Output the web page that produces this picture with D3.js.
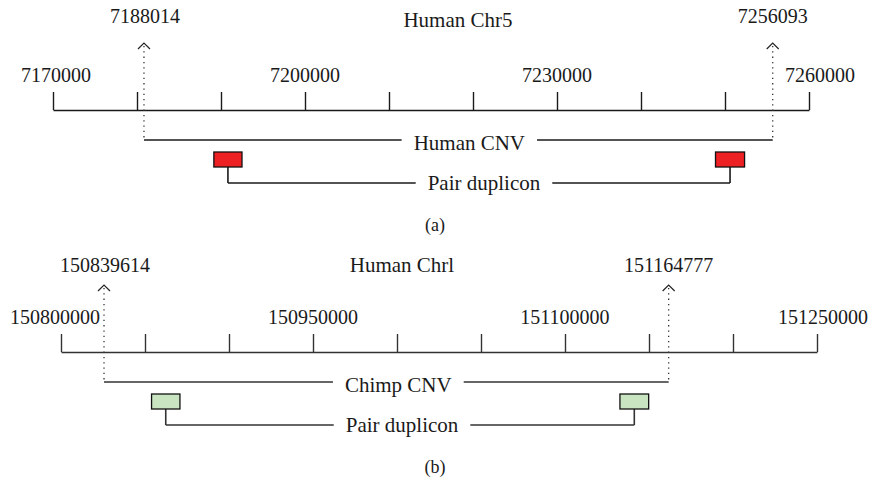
<!DOCTYPE html>
<html>
<head>
<meta charset="utf-8">
<title>CNV duplicon schematic</title>
<script src="https://d3js.org/d3.v7.min.js"></script>
<style>
  body { margin: 0; background: #fff; }
  text { font-family: "Liberation Serif", "DejaVu Serif", serif; fill: #1a1a1a; }
</style>
</head>
<body>
<div id="chart"></div>
<script>
// Panel (a): human chr5
const aTitle = "Human Chr5";
const aDomain = [7170000, 7260000];
const aTicks = [7170000, 7180000, 7190000, 7200000, 7210000, 7220000, 7230000, 7240000, 7250000, 7260000];
const aTickLabels = [7170000, 7200000, 7230000, 7260000];
const aCnvLabels = ["7188014", "7256093"];
const aCnvPos = [7180830, 7255680];     // where the schematic draws the arrows
const aCnvName = "Human CNV";
const aDupStart = [7189150, 7248870];
const aDupEnd = [7192500, 7252330];

// Panel (b): human chr1 / chimp CNV
const bTitle = "Human Chrl";
const bDomain = [150800000, 151250000];
const bTicks = [150800000, 150850000, 150900000, 150950000, 151000000, 151050000, 151100000, 151150000, 151200000, 151250000];
const bTickLabels = [150800000, 150950000, 151100000, 151250000];
const bCnvLabels = ["150839614", "151164777"];
const bCnvPos = [150825600, 151161700];
const bCnvName = "Chimp CNV";
const bDupStart = [150853900, 151132700];
const bDupEnd = [150870800, 151149800];

const width = 869, height = 479;

const svg = d3.select("#chart").append("svg")
  .attr("width", width)
  .attr("height", height);

const panels = [
  { title: aTitle, domain: aDomain, ticks: aTicks, tickLabels: aTickLabels,
    cnvLabels: aCnvLabels, cnvPos: aCnvPos, cnvName: aCnvName,
    dupStart: aDupStart, dupEnd: aDupEnd,
    x0: 53, x1: 809, top: 0, fill: "#ed2024", line: "#1a1a1a",
    titleX: 458, titleY: 27, markY: 23,
    nudge: [3, 11], cnvDx: 11, dupDx: 5, caption: "(a)" },
  { title: bTitle, domain: bDomain, ticks: bTicks, tickLabels: bTickLabels,
    cnvLabels: bCnvLabels, cnvPos: bCnvPos, cnvName: bCnvName,
    dupStart: bDupStart, dupEnd: bDupEnd,
    x0: 61, x1: 817, top: 242, fill: "#c9e4c1", line: "#333",
    titleX: 402, titleY: 30, markY: 30,
    nudge: [-6, 6], cnvDx: 12, dupDx: 2, caption: "(b)" }
];

panels.forEach(p => {
  const x = d3.scaleLinear().domain(p.domain).range([p.x0, p.x1]);
  const g = svg.append("g").attr("transform", `translate(0,${p.top})`);

  const axisY = 110, cnvY = 140, boxY = 152, boxH = 15, linkY = 183;

  // title
  g.append("text")
    .attr("x", p.titleX).attr("y", p.titleY)
    .attr("text-anchor", "middle")
    .style("font-size", "21px")
    .text(p.title);

  // axis with upward ticks
  const axis = d3.axisTop(x)
    .tickValues(p.ticks)
    .tickSize(18)
    .tickSizeOuter(0)
    .tickFormat("");
  const ax = g.append("g")
    .attr("transform", `translate(0,${axisY})`)
    .call(axis);
  ax.select(".domain").attr("stroke", p.line).attr("stroke-width", 1.6);
  ax.selectAll(".tick line").attr("stroke", p.line).attr("stroke-width", 1.4);

  // tick labels
  g.selectAll(".tlab")
    .data(p.tickLabels)
    .enter().append("text")
    .attr("class", "tlab")
    .attr("x", (d, i) => x(d) + (i === 0 ? p.nudge[0] : i === p.tickLabels.length - 1 ? p.nudge[1] : 0))
    .attr("y", 82)
    .attr("text-anchor", "middle")
    .style("font-size", "20px")
    .text(d => d);

  // CNV boundaries: dotted arrows
  p.cnvPos.forEach((v, i) => {
    const cx = x(v);
    g.append("line")
      .attr("x1", cx).attr("x2", cx)
      .attr("y1", 46).attr("y2", cnvY)
      .attr("stroke", "#333")
      .attr("stroke-width", 1.3)
      .attr("stroke-dasharray", "1.3,4");
    g.append("path")
      .attr("d", `M${cx - 6},${49} L${cx},${43} L${cx + 6},${49}`)
      .attr("fill", "none")
      .attr("stroke", "#222")
      .attr("stroke-width", 1.2);
    g.append("text")
      .attr("x", cx + (i === 0 ? 1 : 0)).attr("y", p.markY)
      .attr("text-anchor", "middle")
      .style("font-size", "20px")
      .text(p.cnvLabels[i]);
  });

  // CNV span line with gap label
  const cA = x(p.cnvPos[0]), cB = x(p.cnvPos[1]);
  const cMid = (cA + cB) / 2 + p.cnvDx;
  const cnvText = g.append("text")
    .attr("x", cMid).attr("y", cnvY + 10)
    .attr("text-anchor", "middle")
    .style("font-size", "21px")
    .text(p.cnvName);
  const cw = cnvText.node().getComputedTextLength();
  g.append("line").attr("x1", cA).attr("x2", cMid - cw / 2 - 12)
    .attr("y1", cnvY).attr("y2", cnvY).attr("stroke", p.line).attr("stroke-width", 1.6);
  g.append("line").attr("x1", cMid + cw / 2 + 12).attr("x2", cB)
    .attr("y1", cnvY).attr("y2", cnvY).attr("stroke", p.line).attr("stroke-width", 1.6);

  // duplicon pair connector
  const dCenters = p.dupStart.map((s, i) => (x(s) + x(p.dupEnd[i])) / 2);
  dCenters.forEach(cx => {
    g.append("line").attr("x1", cx).attr("x2", cx)
      .attr("y1", boxY + boxH).attr("y2", linkY)
      .attr("stroke", p.line).attr("stroke-width", 1.6);
  });
  const dMid = (dCenters[0] + dCenters[1]) / 2 + p.dupDx;
  const dupText = g.append("text")
    .attr("x", dMid).attr("y", linkY + 7)
    .attr("text-anchor", "middle")
    .style("font-size", "21px")
    .text("Pair duplicon");
  const dw = dupText.node().getComputedTextLength();
  g.append("line").attr("x1", dCenters[0]).attr("x2", dMid - dw / 2 - 12)
    .attr("y1", linkY).attr("y2", linkY).attr("stroke", p.line).attr("stroke-width", 1.6);
  g.append("line").attr("x1", dMid + dw / 2 + 12).attr("x2", dCenters[1])
    .attr("y1", linkY).attr("y2", linkY).attr("stroke", p.line).attr("stroke-width", 1.6);

  // duplicon boxes
  g.selectAll(".dup")
    .data(p.dupStart)
    .enter().append("rect")
    .attr("class", "dup")
    .attr("x", d => x(d))
    .attr("y", boxY)
    .attr("width", (d, i) => x(p.dupEnd[i]) - x(d))
    .attr("height", boxH)
    .attr("fill", p.fill)
    .attr("stroke", "#111")
    .attr("stroke-width", 1.3);

  // caption
  g.append("text")
    .attr("x", 435).attr("y", 231)
    .attr("text-anchor", "middle")
    .style("font-size", "18px")
    .text(p.caption);
});
</script>
</body>
</html>
